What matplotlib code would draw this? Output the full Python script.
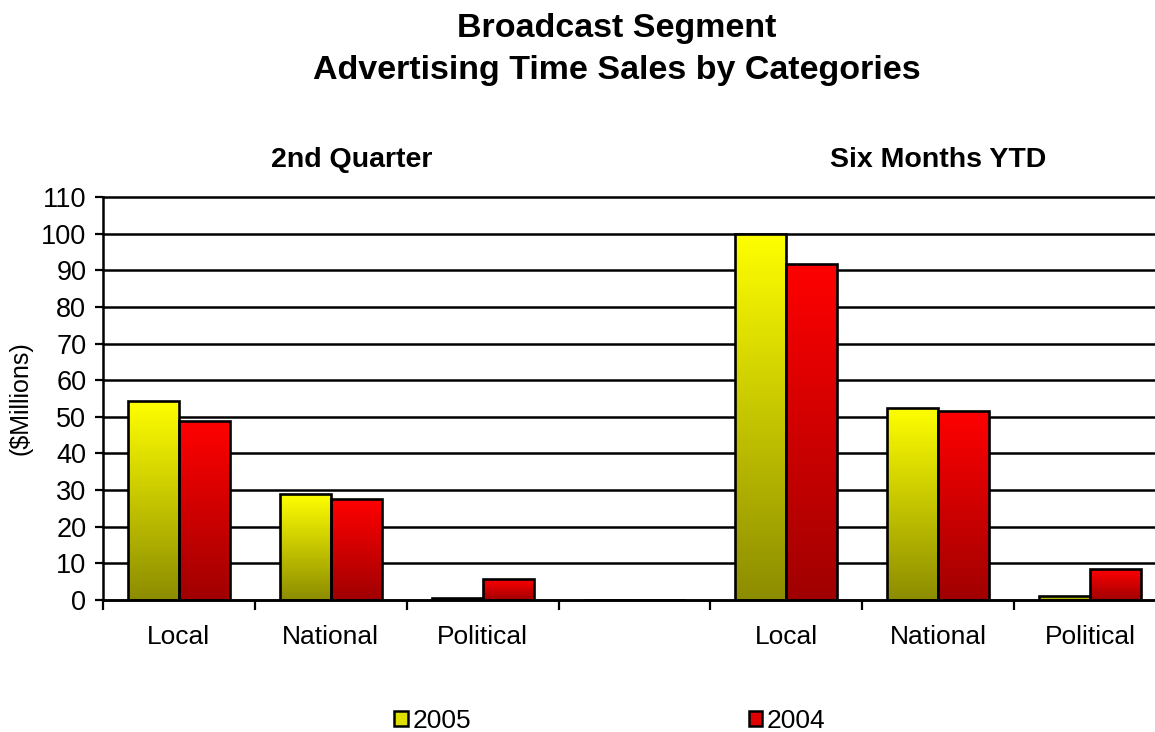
import matplotlib.pyplot as plt
import numpy as np
from matplotlib.colors import LinearSegmentedColormap
from matplotlib.patches import Patch

plt.rcParams['font.family'] = ['Liberation Sans', 'DejaVu Sans']

categories = ['Local', 'National', 'Political', '', 'Local', 'National', 'Political']
sales_2005 = [54.3, 28.8, 0.5, 0, 100.0, 52.5, 1.0]
sales_2004 = [48.8, 27.5, 5.6, 0, 91.8, 51.6, 8.4]
group_titles = ['2nd Quarter', 'Six Months YTD']
yticks = list(range(0, 111, 10))

yellow = LinearSegmentedColormap.from_list('y', ['#8c8c00', '#ffff00'])
red = LinearSegmentedColormap.from_list('r', ['#a00000', '#ff0000'])

fig = plt.figure(figsize=(11.55, 7.32), dpi=100)
ax = fig.add_axes([103 / 1155, 1 - 600 / 732, 1063 / 1155, 403 / 732])

x = np.arange(len(categories))
w = 0.335
grad = np.linspace(0, 1, 256).reshape(-1, 1)


def gradient_bars(xs, vals, cmap):
    bars = ax.bar(xs, vals, w, facecolor='none', edgecolor='black', linewidth=1.9, zorder=3)
    for b, v in zip(bars, vals):
        if v <= 0:
            continue
        x0 = b.get_x()
        im = ax.imshow(grad, cmap=cmap, origin='lower', aspect='auto',
                       extent=[x0, x0 + w, 0, v], zorder=2)
        im.set_clip_path(b)


gradient_bars(x - w / 2, sales_2005, yellow)
gradient_bars(x + w / 2, sales_2004, red)

ax.set_xlim(-0.5, len(categories) - 0.5)
ax.set_ylim(0, 110)
ax.set_yticks(yticks)
ax.yaxis.grid(True, color='black', linewidth=1.8, zorder=1)
for gl in ax.get_ygridlines():
    gl.set_clip_on(False)
ax.set_axisbelow(True)
ax.set_xticks(x)
ax.set_xticklabels(categories, fontsize=19)
ax.set_xticks(np.arange(-0.5, len(categories), 1), minor=True)
ax.tick_params(axis='x', which='major', length=0, pad=18)
ax.tick_params(axis='x', which='minor', length=7, width=1.6, direction='out')
ax.tick_params(axis='y', labelsize=19.5, length=6, width=1.6, pad=6)
for s in ['top', 'right']:
    ax.spines[s].set_visible(False)
for s in ['left', 'bottom']:
    ax.spines[s].set_linewidth(1.8)
ax.set_ylabel('($Millions)', fontsize=18, labelpad=6)

fig.text(617 / 1155, 1 - 28 / 732, 'Broadcast Segment', ha='center', va='center',
         fontsize=24.5, fontweight='bold')
fig.text(617 / 1155, 1 - 70 / 732, 'Advertising Time Sales by Categories', ha='center',
         va='center', fontsize=24.5, fontweight='bold')
fig.text(352 / 1155, 1 - 160 / 732, group_titles[0], ha='center', va='center',
         fontsize=20.5, fontweight='bold')
fig.text(938 / 1155, 1 - 160 / 732, group_titles[1], ha='center', va='center',
         fontsize=20.5, fontweight='bold')

handles = [Patch(facecolor='#e0e000', edgecolor='black', linewidth=1.8, label='2005'),
           Patch(facecolor='#e00000', edgecolor='black', linewidth=1.8, label='2004')]
fig.legend(handles=handles, loc='center', bbox_to_anchor=(610 / 1155, 1 - 721 / 732),
           ncol=2, frameon=False, fontsize=19, handlelength=0.5, handleheight=0.5,
           handletextpad=0.2, columnspacing=10.5)

fig.savefig('out.png', dpi=100)
